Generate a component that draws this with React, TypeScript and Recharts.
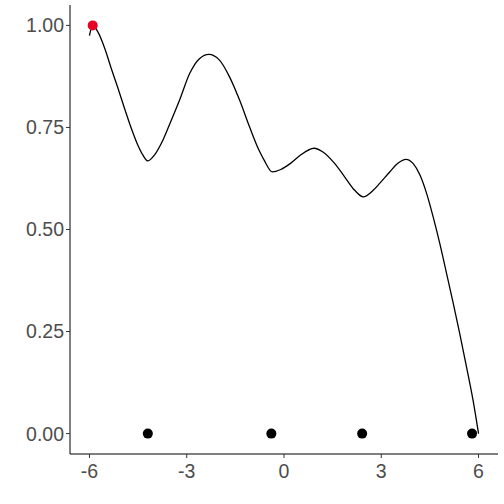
import { ComposedChart, Line, Scatter, XAxis, YAxis } from 'recharts';

// curve (x, y)
const curveX = [
  -6, -5.9, -5.74, -5.53, -5.33, -5.12, -4.92, -4.71, -4.51, -4.35, -4.2, -3.99, -3.74, -3.53,
  -3.22, -2.91, -2.6, -2.32, -1.99, -1.68, -1.37, -1.06, -0.77, -0.6, -0.36, -0.1, 0.2, 0.5,
  0.93, 1.2, 1.56, 1.87, 2.18, 2.44, 2.75, 2.95, 3.26, 3.52, 3.76, 3.98, 4.19, 4.4, 4.6, 4.78,
  5.06, 5.22, 5.42, 5.63, 5.83, 6,
];
const curveY = [
  0.975, 1.0, 0.984, 0.944, 0.895, 0.846, 0.797, 0.748, 0.707, 0.682, 0.668, 0.683, 0.718, 0.757,
  0.817, 0.882, 0.919, 0.929, 0.915, 0.874, 0.817, 0.751, 0.694, 0.668, 0.641, 0.647, 0.662, 0.682,
  0.699, 0.69, 0.662, 0.629, 0.596, 0.58, 0.596, 0.613, 0.641, 0.663, 0.672, 0.662, 0.634, 0.588,
  0.531, 0.474, 0.376, 0.319, 0.245, 0.163, 0.082, 0,
];

// observed points on the baseline
const obsX = [-4.2, -0.39, 2.41, 5.8];
const obsY = [0, 0, 0, 0];

// the highlighted point
const bestX = [-5.9];
const bestY = [1.0];

const xTicks = [-6, -3, 0, 3, 6];
const yTicks = [0, 0.25, 0.5, 0.75, 1];

const curve = curveX.map((x, i) => ({ x, y: curveY[i] }));
const observed = obsX.map((x, i) => ({ x, y: obsY[i] }));
const best = bestX.map((x, i) => ({ x, y: bestY[i] }));

const tickStyle = { fill: '#4D4D4D', fontSize: 19.5, fontFamily: 'Liberation Sans, Arial, sans-serif' };

const dot = (color: string) => (props: any) => (
  <circle cx={props.cx} cy={props.cy} r={5} fill={color} />
);

export default function App() {
  return (
    <div style={{ width: 504, height: 504, background: '#fff' }}>
      <style>{'body{margin:0}'}</style>
      <ComposedChart width={504} height={504} margin={{ top: 5, right: 6, bottom: 20, left: 0 }}>
        <XAxis
          type="number"
          dataKey="x"
          domain={[-6.6, 6.6]}
          ticks={xTicks}
          tickFormatter={(v: number) => String(v)}
          height={30}
          stroke="#000"
          tickLine={{ stroke: '#333' }}
          tickSize={4}
          tickMargin={6}
          tick={tickStyle}
          allowDataOverflow
        />
        <YAxis
          type="number"
          dataKey="y"
          domain={[-0.05, 1.05]}
          ticks={yTicks}
          tickFormatter={(v: number) => v.toFixed(2)}
          width={70}
          stroke="#000"
          tickLine={{ stroke: '#333' }}
          tickSize={4}
          tickMargin={2}
          tick={tickStyle}
          allowDataOverflow
        />
        <Line
          data={curve}
          dataKey="y"
          type="monotone"
          stroke="#000"
          strokeWidth={1.3}
          dot={false}
          activeDot={false}
          isAnimationActive={false}
        />
        <Scatter data={observed} dataKey="y" fill="#000" shape={dot('#000')} isAnimationActive={false} />
        <Scatter data={best} dataKey="y" fill="#E60026" shape={dot('#E60026')} isAnimationActive={false} />
      </ComposedChart>
    </div>
  );
}
